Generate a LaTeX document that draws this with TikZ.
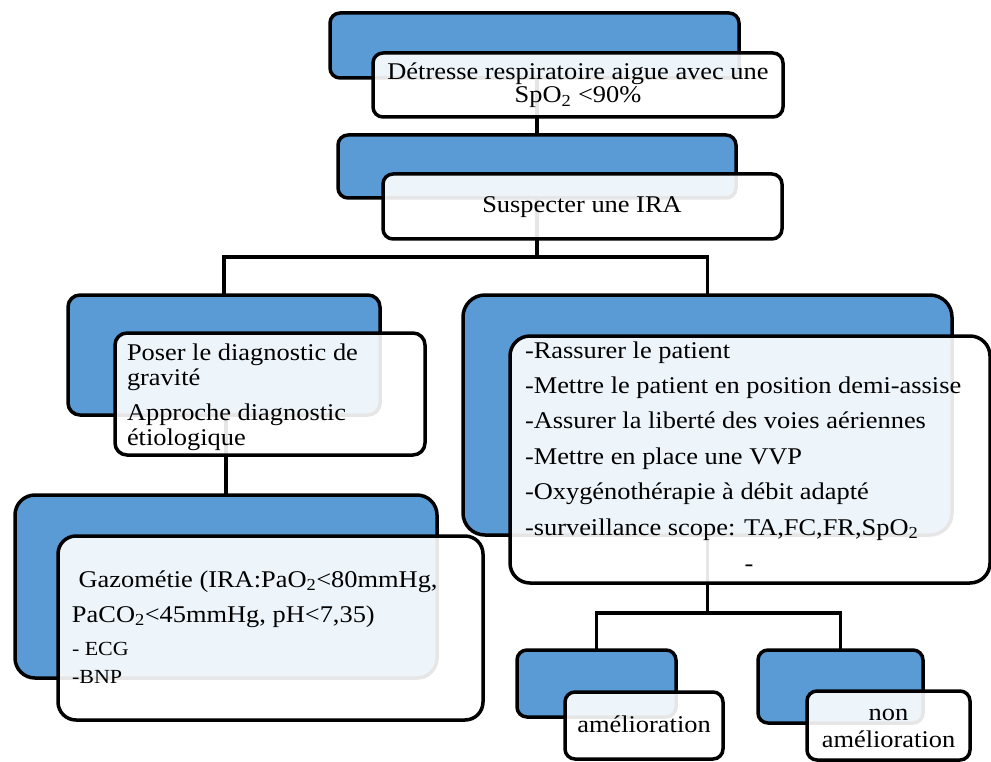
\documentclass[tikz,border=0pt]{standalone}
\usepackage{fontspec}
\setmainfont{Liberation Serif}[FakeStretch=1.1]
\definecolor{boxblue}{RGB}{91,155,213}
\pgfdeclarelayer{back}
\pgfsetlayers{back,main}
\begin{document}
\begin{tikzpicture}[x=1pt,y=-1pt,
  bluebox/.style={draw=black, line width=3.5pt, fill=boxblue, rounded corners=#1,
    inner sep=0pt, outer sep=0pt},
  bluebox/.default=10pt,
  whitebox/.style={draw=black, line width=3.5pt, fill=white, fill opacity=0.9,
    draw opacity=1, text opacity=1, rounded corners=#1, inner sep=0pt, outer sep=0pt},
  whitebox/.default=10pt,
  conn/.style={draw=black, line width=3.5pt},
  txt/.style={inner sep=0pt, outer sep=0pt, font=\fontsize{24}{#1}\selectfont},
  txt/.default=25pt]
\useasboundingbox (0,0) rectangle (991,762);

% parent shapes (blue)
\node[bluebox] (b1) at (534.5,45.5) [minimum width=409pt, minimum height=65pt] {};
\node[bluebox] (b2) at (537,166.5) [minimum width=398pt, minimum height=63pt] {};
\node[bluebox=12pt] (b3) at (224,355) [minimum width=312pt, minimum height=120pt] {};
\node[bluebox=22pt] (b4) at (707.5,415) [minimum width=489pt, minimum height=240pt] {};
\node[bluebox=20pt] (b5) at (226,586.5) [minimum width=422pt, minimum height=183pt] {};
\node[bluebox] (b6) at (596.5,683.5) [minimum width=159pt, minimum height=67pt] {};
\node[bluebox] (b7) at (840.5,686.5) [minimum width=165pt, minimum height=73pt] {};

% text shapes (white, slightly translucent)
\node[whitebox] (w1) at (578,85) [minimum width=410pt, minimum height=64pt] {};
\node[whitebox] (w2) at (582.5,206.5) [minimum width=399pt, minimum height=65pt] {};
\node[whitebox=12pt] (w3) at (270,394) [minimum width=310pt, minimum height=122pt] {};
\node[whitebox=20pt] (w4) at (750,459.5) [minimum width=480pt, minimum height=247pt] {};
\node[whitebox=18pt] (w5) at (270.5,628) [minimum width=425pt, minimum height=184pt] {};
\node[whitebox] (w6) at (644,725.5) [minimum width=158pt, minimum height=67pt] {};
\node[whitebox] (w7) at (888.5,725.5) [minimum width=163pt, minimum height=69pt] {};

% connectors, behind the shapes
\begin{pgfonlayer}{back}
  \draw[conn] (b2.north) -- (b2.north |- b1.south);
  \draw[conn] (b2.south) -- ++(0,59) coordinate (j1);
  \draw[conn] (j1) -| (b3.north);
  \draw[conn] (j1) -| (b4.north);
  \draw[conn] (b5.north) -- (b5.north |- b3.south);
  \draw[conn] (b4.south) -- ++(0,78) coordinate (j2);
  \draw[conn] (j2) -| (b6.north);
  \draw[conn] (j2) -| (b7.north);
\end{pgfonlayer}

% texts
\node[txt=22pt, anchor=base] (t1) at (578,80)
  {\begin{tabular}[t]{@{}c@{}}Détresse respiratoire aigue avec une\\ SpO\textsubscript{2} <90\%\end{tabular}};
\node[txt, anchor=base] (t2) at (582,213) {Suspecter une IRA};
\node[txt, anchor=base west] (t3) at (127,360)
  {\begin{tabular}[t]{@{}l@{}}Poser le diagnostic de\\ gravité\\[10pt] Approche diagnostic\\ étiologique\end{tabular}};
\node[txt=35.4pt, anchor=base west] (t4) at (525,358)
  {\begin{tabular}[t]{@{}l@{}}-Rassurer le patient\\
   -Mettre le patient en position demi-assise\\
   -Assurer la liberté des voies aériennes\\
   -Mettre en place une VVP\\
   -Oxygénothérapie à débit adapté\\
   -surveillance scope: TA,FC,FR,SpO\textsubscript{2}\end{tabular}};
\node[txt, anchor=base] (t4b) at (749,571) {-};
\node[txt=35pt, anchor=base west] (t5) at (72,587)
  {\begin{tabular}[t]{@{}l@{}}\ Gazométie (IRA:PaO\textsubscript{2}<80mmHg,\\
   PaCO\textsubscript{2}<45mmHg, pH<7,35)\end{tabular}};
\node[inner sep=0pt, outer sep=0pt, font=\fontsize{20}{28}\selectfont, anchor=base west] (t5b) at (72,655)
  {\begin{tabular}[t]{@{}l@{}}- ECG\\ -BNP\end{tabular}};
\node[txt, anchor=base] (t6) at (644,732) {amélioration};
\node[txt=27pt, anchor=base] (t7) at (888.5,720)
  {\begin{tabular}[t]{@{}c@{}}non\\ amélioration\end{tabular}};
\end{tikzpicture}
\end{document}
